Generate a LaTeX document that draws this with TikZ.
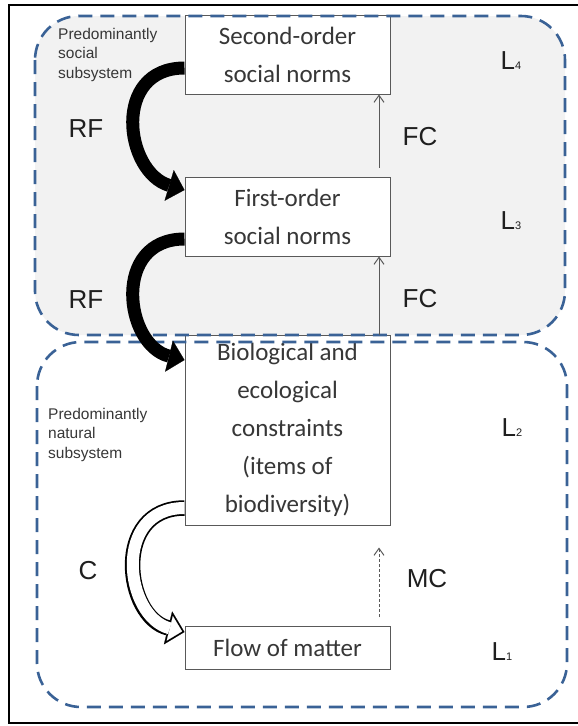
\documentclass[tikz,border=0pt]{standalone}
\usepackage{fontspec}
\setmainfont{Carlito}
\newfontfamily\arialfont{Liberation Sans}
\usetikzlibrary{arrows.meta}
\definecolor{dashblue}{RGB}{58,98,150}
\definecolor{panelgray}{RGB}{242,242,242}
\definecolor{textgray}{RGB}{55,55,55}
\newcommand\lsub[1]{{\fontsize{11}{11}\selectfont #1}}

\begin{document}
\begin{tikzpicture}[x=1pt,y=-1pt,
        normbox/.style={draw=black!65,line width=1pt,fill=white,minimum width=205pt,
            inner sep=0pt,align=center,text=textgray,font=\fontsize{25}{38}\selectfont},
        lvl/.style={font=\arialfont\fontsize{26}{26}\selectfont,text=black!88,inner sep=0pt},
        subsys/.style={font=\arialfont\fontsize{15.5}{19.5}\selectfont,align=left,
            text=textgray,anchor=north west,inner sep=0pt},
        region/.style={draw=dashblue,line width=2.6pt,dash pattern=on 14pt off 8pt,rounded corners=44pt},
        fc/.style={draw=black!65,line width=1pt,-{Straight Barb[length=7pt,width=10pt]}},
        rf/.style={line width=13pt,-{Triangle[length=16pt,width=32pt,line width=0.2pt]}}]
    \useasboundingbox (0,0) rectangle (578,726);
    % frame and social panel
    \draw[line width=2pt] (600,5) -- (9,5) -- (9,723) -- (600,723);
    \fill[panelgray,rounded corners=44pt] (35,16) rectangle (565,335);
    % levels
    \node[normbox,minimum height=79pt] (so) at (287.5,54.5) {Second-order\\social norms};
    \node[normbox,minimum height=79pt] (fo) at (287.5,216.5) {First-order\\social norms};
    \node[normbox,minimum height=190pt] (bio) at (287.5,430) {Biological and\\ecological\\constraints\\(items of\\biodiversity)};
    \node[normbox,minimum height=43pt] (flow) at (287.5,648) {Flow of matter};
    \draw[region] (35,16) rectangle (565,335);
    \draw[region] (37,342) rectangle (567,707);
    \node[subsys] (soc) at (58,28) {Predominantly\\social\\subsystem};
    \node[subsys] (nat) at (48,408) {Predominantly\\natural\\subsystem};
    % labels
    \node[lvl] (rf1) at (86,129) {RF};
    \node[lvl] (rf2) at (86,300) {RF};
    \node[lvl] (c) at (88,571) {C};
    \node[lvl] (fc1) at (420,137) {FC};
    \node[lvl] (fc2) at (420,299) {FC};
    \node[lvl] (mc) at (427,579) {MC};
    \node[lvl] (l4) at (511,61) {L\lsub{4}};
    \node[lvl] (l3) at (511,221) {L\lsub{3}};
    \node[lvl] (l2) at (512,428) {L\lsub{2}};
    \node[lvl] (l1) at (502,652) {L\lsub{1}};
    % upward causation
    \draw[fc,shorten <=9pt] ([xshift=91.5pt]fo.north) -- ([xshift=91.5pt]so.south);
    \draw[fc] ([xshift=91.5pt]bio.north) -- ([xshift=91.5pt]fo.south);
    \draw[fc,dash pattern=on 3pt off 2pt,shorten <=9pt,shorten >=22pt] ([xshift=91.5pt]flow.north) -- ([xshift=91.5pt]bio.south);
    % downward arrows
    \draw[rf] ([yshift=-13.5pt]so.west) .. controls +(-73,0) and +(-60,-18) .. ([yshift=26.5pt]fo.west);
    \draw[rf] ([yshift=-22.5pt]fo.west) .. controls +(-73,0) and +(-60,-15) .. ([yshift=70pt]bio.west);
    \draw[line width=15.5pt,-{Triangle[length=17pt,width=34pt,line width=0.2pt]}]
        ([yshift=-78pt]bio.west) .. controls +(-73,0) and +(-60,-15) .. ([yshift=16pt]flow.west);
    \draw[white,line width=12pt,shorten >=2.5pt,-{Triangle[length=12.7pt,width=25.4pt,line width=0.2pt]}]
        ([yshift=-78pt]bio.west) .. controls +(-73,0) and +(-60,-15) .. ([yshift=16pt]flow.west);
\end{tikzpicture}
\end{document}
